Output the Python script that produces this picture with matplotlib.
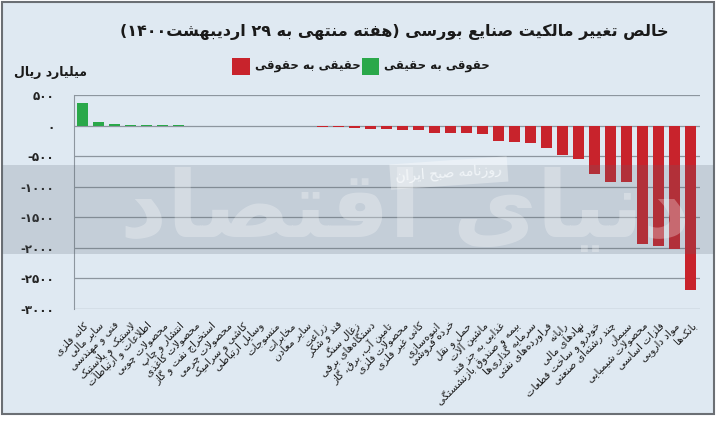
import re
import numpy as np
import matplotlib
matplotlib.use('Agg')
from matplotlib import pyplot as plt
from matplotlib.patches import Rectangle

#Data (billion rials), net ownership change per industry
industries = ['کانه فلزی', 'سایر مالی', 'فنی و مهندسی', 'لاستیک و پلاستیک', 'اطلاعات و ارتباطات',
              'محصولات چوبی', 'انتشار و چاپ', 'محصولات کاغذی', 'استخراج نفت و گاز', 'محصولات چرمی',
              'کاشی و سرامیک', 'وسایل ارتباطی', 'منسوجات', 'مخابرات', 'سایر معادن', 'زراعت',
              'قند و شکر', 'زغال سنگ', 'دستگاه‌های برقی', 'تامین آب، برق، گاز', 'محصولات فلزی',
              'کانی غیر فلزی', 'انبوه‌سازی', 'خرده فروشی', 'حمل و نقل', 'ماشین آلات',
              'غذایی به جز قند', 'بیمه و صندوق بازنشستگی', 'سرمایه گذاری‌ها', 'فراورده‌های نفتی',
              'رایانه', 'نهادهای مالی', 'خودرو و ساخت قطعات', 'چند رشته‌ای صنعتی', 'سیمان',
              'محصولات شیمیایی', 'فلزات اساسی', 'مواد دارویی', 'بانک‌ها']
net_change = [370, 55, 28, 15, 3, 2, 1, 0, -1, -2, -3, -4, -5,
              -8, -12, -18, -25, -40, -50, -55, -68, -80, -118, -118, -130, -145,
              -250, -262, -288, -365, -475, -550, -800, -928, -928, -1935, -1965, -2020, -2695]
yticks = [500, 0, -500, -1000, -1500, -2000, -2500, -3000]

title = 'خالص تغییر مالکیت صنایع بورسی (هفته منتهی به ۲۹ اردیبهشت۱۴۰۰)'
unit = 'میلیارد ریال'
legend_red = 'حقیقی به حقوقی'
legend_green = 'حقوقی به حقیقی'
stamp = 'روزنامه صبح ایران'
logo = 'دنیای اقتصاد'

#Persian shaping (no reshaper installed): contextual forms + visual order
dual = {'ب': 0xFE8F, 'ت': 0xFE95, 'ث': 0xFE99, 'ج': 0xFE9D, 'ح': 0xFEA1, 'خ': 0xFEA5,
        'س': 0xFEB1, 'ش': 0xFEB5, 'ص': 0xFEB9, 'ض': 0xFEBD, 'ط': 0xFEC1, 'ظ': 0xFEC5,
        'ع': 0xFEC9, 'غ': 0xFECD, 'ف': 0xFED1, 'ق': 0xFED5, 'ل': 0xFEDD, 'م': 0xFEE1,
        'ن': 0xFEE5, 'ه': 0xFEE9, 'ي': 0xFEF1, 'ئ': 0xFE89, 'پ': 0xFB56, 'چ': 0xFB7A,
        'ک': 0xFB8E, 'گ': 0xFB92, 'ی': 0xFBFC}
right = {'ا': 0xFE8D, 'آ': 0xFE81, 'أ': 0xFE83, 'إ': 0xFE87, 'ؤ': 0xFE85, 'د': 0xFEA9,
         'ذ': 0xFEAB, 'ر': 0xFEAD, 'ز': 0xFEAF, 'ژ': 0xFB8A, 'و': 0xFEED}

def shape(text):
    out = []
    n = len(text)
    i = 0
    while i < n:
        c = text[i]
        prev_conn = i > 0 and text[i-1] in dual
        if c == 'ل' and i+1 < n and text[i+1] in 'اآ':
            base = 0xFEFB if text[i+1] == 'ا' else 0xFEF5
            out.append(chr(base + (1 if prev_conn else 0)))
            i += 2
            continue
        if c in dual:
            next_conn = i+1 < n and (text[i+1] in dual or text[i+1] in right)
            k = [[0, 2], [1, 3]][prev_conn][next_conn]
            out.append(chr(dual[c] + k))
        elif c in right:
            out.append(chr(right[c] + (1 if prev_conn else 0)))
        elif c != '\u200c':
            out.append(c)
        i += 1
    return ''.join(out)

def fa(text):
    s = shape(text)[::-1]
    s = re.sub(r'[0-9۰-۹]+', lambda m: m.group(0)[::-1], s)
    return s.translate(str.maketrans('()', ')('))

def fa_num(v):
    s = str(abs(v)).translate(str.maketrans('0123456789', '۰۱۲۳۴۵۶۷۸۹'))
    return '-' + s if v < 0 else s

plt.rcParams['font.family'] = ['DejaVu Sans']
bg = '#dfe9f2'
red = '#c8232c'
green = '#2aa84a'

fig = plt.figure(figsize=(7.24, 4.22), dpi=100, facecolor='white')
fig.patches.append(Rectangle((0.003, 0.02), 0.983, 0.976, transform=fig.transFigure,
                             facecolor=bg, edgecolor='#6b6f74', linewidth=1.5, zorder=-5))

ax = fig.add_axes([0.102, 0.268, 0.865, 0.507])
ax.set_facecolor('none')
x = np.arange(len(industries))
colors = [green if v > 0 else red for v in net_change]
ax.bar(x, net_change, width=0.72, color=colors, zorder=3)
ax.set_xlim(-0.53, len(industries) - 0.4)
ax.set_ylim(-3000, 500)
ax.set_yticks(yticks)
ax.set_yticklabels([fa_num(v) for v in yticks], fontsize=8.5, fontweight='bold', color='#222222')
ax.yaxis.grid(True, color='#8d969f', linewidth=0.9, zorder=0)
ax.tick_params(axis='both', length=0, pad=14)
ax.set_xticks(x)
ax.set_xticklabels([fa(s) for s in industries], rotation=45, ha='right', va='top',
                   rotation_mode='anchor', fontsize=7.5, color='#1a1a1a')
ax.tick_params(axis='x', pad=8)
for side in ['top', 'right', 'bottom']:
    ax.spines[side].set_visible(False)
ax.spines['left'].set_color('#8d969f')

#Title, unit and legend
fig.text(0.923, 0.925, fa(title), ha='right', va='center', fontsize=11.5, fontweight='bold', color='#1a1a1a')
fig.text(0.02, 0.828, fa(unit), ha='left', va='center', fontsize=9, fontweight='bold', color='#1a1a1a')
fig.patches.append(Rectangle((0.321, 0.822), 0.024, 0.04, transform=fig.transFigure, facecolor=red, zorder=2))
fig.text(0.352, 0.842, fa(legend_red), ha='left', va='center', fontsize=8.5, fontweight='bold', color='#1a1a1a')
fig.patches.append(Rectangle((0.50, 0.822), 0.024, 0.04, transform=fig.transFigure, facecolor=green, zorder=2))
fig.text(0.531, 0.842, fa(legend_green), ha='left', va='center', fontsize=8.5, fontweight='bold', color='#1a1a1a')

#Watermark band and stamp
fig.patches.append(Rectangle((0.003, 0.398), 0.983, 0.211, transform=fig.transFigure,
                             facecolor='#5a6570', alpha=0.2, edgecolor='none', zorder=10))
fig.text(0.62, 0.59, fa(stamp), ha='center', va='center', fontsize=10, color='#f2f6f9', rotation=4,
         bbox=dict(boxstyle='square,pad=0.4', facecolor='#ffffff', alpha=0.35, edgecolor='none'), zorder=11)
fig.text(0.56, 0.5, fa(logo), ha='center', va='center', fontsize=66, fontweight='bold',
         color='white', alpha=0.28, zorder=11)

fig.savefig('out.png', dpi=100, facecolor='white')
